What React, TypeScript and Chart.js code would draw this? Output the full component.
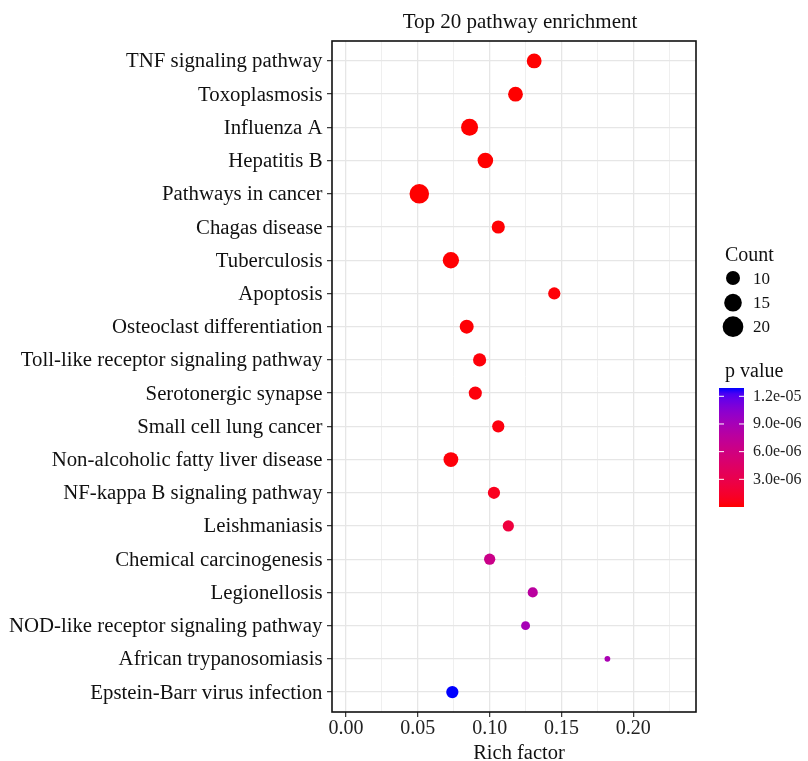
import React, { useEffect, useRef } from 'react';
import { Chart, registerables } from 'chart.js';

Chart.register(...registerables);

const pathways = [
  'TNF signaling pathway',
  'Toxoplasmosis',
  'Influenza A',
  'Hepatitis B',
  'Pathways in cancer',
  'Chagas disease',
  'Tuberculosis',
  'Apoptosis',
  'Osteoclast differentiation',
  'Toll-like receptor signaling pathway',
  'Serotonergic synapse',
  'Small cell lung cancer',
  'Non-alcoholic fatty liver disease',
  'NF-kappa B signaling pathway',
  'Leishmaniasis',
  'Chemical carcinogenesis',
  'Legionellosis',
  'NOD-like receptor signaling pathway',
  'African trypanosomiasis',
  'Epstein-Barr virus infection',
];
const richFactor = [
  0.131, 0.118, 0.086, 0.097, 0.051, 0.106, 0.073, 0.145, 0.084, 0.093,
  0.090, 0.106, 0.073, 0.103, 0.113, 0.100, 0.130, 0.125, 0.182, 0.074,
];
const counts = [11, 11, 14, 12, 18, 9, 13, 8, 10, 9, 9, 8, 11, 8, 7, 7, 6, 5, 3, 8];
const pValues = [
  1.0e-10, 2.0e-9, 1.5e-9, 8.0e-9, 3.0e-10, 6.0e-8, 4.0e-8, 1.2e-7, 9.0e-8, 2.0e-7,
  2.5e-7, 3.0e-7, 1.8e-7, 8.0e-7, 2.3e-6, 6.4e-6, 7.7e-6, 9.0e-6, 8.8e-6, 1.29e-5,
];
const xTickValues = [0, 0.05, 0.1, 0.15, 0.2];
const countLegend = [10, 15, 20];
const pLegendTicks = [1.2e-5, 9e-6, 6e-6, 3e-6];
const pLegendLabels = ['1.2e-05', '9.0e-06', '6.0e-06', '3.0e-06'];
const titleText = 'Top 20 pathway enrichment';
const xTitle = 'Rich factor';

const SERIF = "'Liberation Serif', 'Times New Roman', serif";

// ---- colour helpers (CIELAB interpolation like ggplot2) ----
function toLin(c: number) {
  c /= 255;
  return c <= 0.04045 ? c / 12.92 : Math.pow((c + 0.055) / 1.055, 2.4);
}
function fromLin(c: number) {
  const v = c <= 0.0031308 ? 12.92 * c : 1.055 * Math.pow(c, 1 / 2.4) - 0.055;
  return Math.round(Math.max(0, Math.min(1, v)) * 255);
}
function rgbToLab(rgb: number[]) {
  const r = toLin(rgb[0]), g = toLin(rgb[1]), b = toLin(rgb[2]);
  const X = (0.4124 * r + 0.3576 * g + 0.1805 * b) / 0.95047;
  const Y = 0.2126 * r + 0.7152 * g + 0.0722 * b;
  const Z = (0.0193 * r + 0.1192 * g + 0.9505 * b) / 1.08883;
  const f = (t: number) => (t > 0.008856 ? Math.cbrt(t) : 7.787 * t + 16 / 116);
  const fx = f(X), fy = f(Y), fz = f(Z);
  return [116 * fy - 16, 500 * (fx - fy), 200 * (fy - fz)];
}
function labToRgb(lab: number[]) {
  const fy = (lab[0] + 16) / 116;
  const fx = fy + lab[1] / 500;
  const fz = fy - lab[2] / 200;
  const inv = (f: number) => (f * f * f > 0.008856 ? f * f * f : (f - 16 / 116) / 7.787);
  const X = inv(fx) * 0.95047, Y = inv(fy), Z = inv(fz) * 1.08883;
  const r = 3.2406 * X - 1.5372 * Y - 0.4986 * Z;
  const g = -0.9689 * X + 1.8758 * Y + 0.0415 * Z;
  const b = 0.0557 * X - 0.204 * Y + 1.057 * Z;
  return `rgb(${fromLin(r)},${fromLin(g)},${fromLin(b)})`;
}
const LOW = rgbToLab([255, 0, 0]);
const HIGH = rgbToLab([0, 0, 255]);
function rampColor(t: number) {
  const u = Math.max(0, Math.min(1, t));
  return labToRgb([0, 1, 2].map((k) => LOW[k] + (HIGH[k] - LOW[k]) * u));
}
const pMin = Math.min(...pValues);
const pMax = Math.max(...pValues);
const pColor = (p: number) => rampColor((p - pMin) / (pMax - pMin));

// size scale (area proportional to count)
const diameter = (c: number) => Math.sqrt(Math.max(4, 196 + 23.2 * (c - 10)));

const overlay = {
  id: 'overlay',
  beforeDatasetsDraw(chart: any) {
    const { ctx, chartArea: a } = chart;
    ctx.save();
    ctx.strokeStyle = '#111';
    ctx.lineWidth = 1.6;
    ctx.strokeRect(a.left, a.top, a.right - a.left, a.bottom - a.top);
    ctx.restore();
  },
  afterDraw(chart: any) {
    const { ctx, chartArea: a } = chart;
    const yScale = chart.scales.y;
    ctx.save();
    ctx.fillStyle = '#111';
    ctx.textBaseline = 'alphabetic';

    // category labels
    ctx.font = `20.8px ${SERIF}`;
    ctx.textAlign = 'right';
    pathways.forEach((name, i) => {
      ctx.fillText(name, a.left - 9.5, yScale.getPixelForValue(i) + 6.5);
    });

    // title
    ctx.font = `21px ${SERIF}`;
    ctx.textAlign = 'center';
    ctx.fillText(titleText, 520, 28);
    // x title
    ctx.font = `20.5px ${SERIF}`;
    ctx.fillText(xTitle, 519, 759);

    // Count legend
    ctx.textAlign = 'left';
    ctx.font = `20px ${SERIF}`;
    ctx.fillText('Count', 725, 261);
    const dotY = [278, 302.7, 326.7];
    ctx.font = `17px ${SERIF}`;
    countLegend.forEach((c, i) => {
      ctx.fillStyle = '#000';
      ctx.beginPath();
      ctx.arc(733, dotY[i], diameter(c) / 2, 0, Math.PI * 2);
      ctx.fill();
      ctx.fillStyle = '#111';
      ctx.fillText(String(c), 753, dotY[i] + 5.5);
    });

    // p value legend
    ctx.font = `20px ${SERIF}`;
    ctx.fillText('p value', 725, 377);
    const bx = 719, bw = 25, bTop = 388, bBot = 507;
    const grad = ctx.createLinearGradient(0, bBot, 0, bTop);
    for (let i = 0; i <= 20; i++) grad.addColorStop(i / 20, rampColor(i / 20));
    ctx.fillStyle = grad;
    ctx.fillRect(bx, bTop, bw, bBot - bTop);
    ctx.strokeStyle = '#fff';
    ctx.lineWidth = 1;
    ctx.font = `16px ${SERIF}`;
    ctx.textBaseline = 'middle';
    pLegendTicks.forEach((p, i) => {
      const y = bBot - ((p - pMin) / (pMax - pMin)) * (bBot - bTop);
      ctx.beginPath();
      ctx.moveTo(bx, y);
      ctx.lineTo(bx + 5, y);
      ctx.moveTo(bx + bw - 5, y);
      ctx.lineTo(bx + bw, y);
      ctx.stroke();
      ctx.fillStyle = '#222';
      ctx.fillText(pLegendLabels[i], 753, y);
    });
    ctx.restore();
  },
};

const isMajor = (v: number) => xTickValues.some((t) => Math.abs(t - v) < 1e-6);

export default function App() {
  const ref = useRef<HTMLCanvasElement>(null);
  useEffect(() => {
    if (!ref.current) return;
    const points = pathways.map((_, i) => ({ x: richFactor[i], y: i }));
    const chart = new Chart(ref.current, {
      type: 'scatter',
      data: {
        datasets: [
          {
            data: points,
            pointRadius: (c: any) => diameter(counts[c.dataIndex]) / 2,
            pointHoverRadius: (c: any) => diameter(counts[c.dataIndex]) / 2,
            pointBackgroundColor: (c: any) => pColor(pValues[c.dataIndex]),
            pointBorderWidth: 0,
            pointHoverBorderWidth: 0,
          } as any,
        ],
      },
      options: {
        responsive: false,
        animation: false,
        events: [],
        layout: { padding: { top: 41, right: 112, left: 0, bottom: 0 } },
        plugins: {
          legend: { display: false },
          tooltip: { enabled: false },
          title: { display: false },
        },
        scales: {
          x: {
            type: 'linear',
            min: -0.0098,
            max: 0.2437,
            afterFit: (s: any) => {
              s.height = 49;
            },
            border: { display: false },
            grid: {
              color: (c: any) => (isMajor(c.tick.value) ? '#E6E6E6' : '#EFEFEF'),
              lineWidth: (c: any) => (isMajor(c.tick.value) ? 1.3 : 1),
              tickColor: (c: any) => (isMajor(c.tick.value) ? '#333' : 'rgba(0,0,0,0)'),
              tickLength: 5,
              tickWidth: 1.2,
            },
            ticks: {
              stepSize: 0.025,
              includeBounds: false,
              autoSkip: false,
              maxRotation: 0,
              padding: 0,
              color: '#222',
              font: { family: SERIF, size: 20 },
              callback: (v: any) => (isMajor(Number(v)) ? Number(v).toFixed(2) : ''),
            },
          },
          y: {
            type: 'linear',
            reverse: true,
            min: -0.6,
            max: 19.6,
            afterFit: (s: any) => {
              s.width = 332;
            },
            border: { display: false },
            grid: {
              color: '#E6E6E6',
              lineWidth: 1.3,
              tickColor: '#333',
              tickLength: 5,
              tickWidth: 1.2,
            },
            ticks: {
              stepSize: 1,
              includeBounds: false,
              autoSkip: false,
              padding: 4,
              color: '#111',
              font: { family: SERIF, size: 20 },
              callback: () => '',
            },
          },
        },
      } as any,
      plugins: [overlay],
    });
    return () => chart.destroy();
  }, []);
  return (
    <div style={{ position: 'fixed', left: 0, top: 0, width: 808, height: 761, background: '#fff' }}>
      <canvas ref={ref} width={808} height={761} style={{ display: 'block' }} />
    </div>
  );
}
